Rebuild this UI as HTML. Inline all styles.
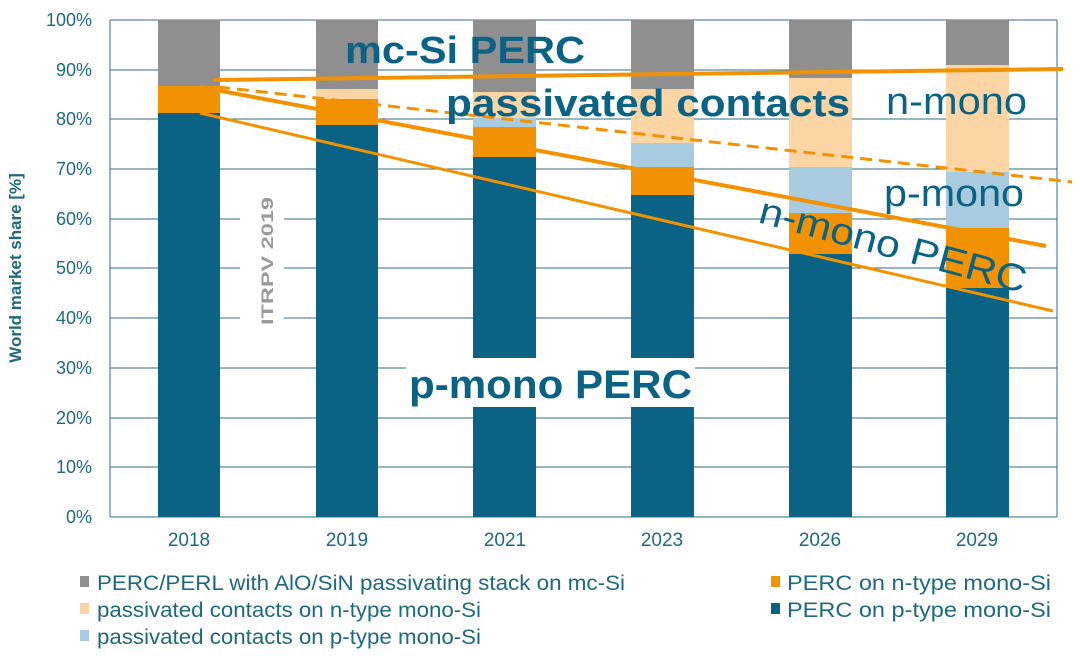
<!DOCTYPE html>
<html><head><meta charset="utf-8"><style>body{margin:0;background:#fff}svg{display:block}</style></head><body>
<svg width="1080" height="661" viewBox="0 0 1080 661" font-family="Liberation Sans, sans-serif">
<rect width="1080" height="661" fill="#fff"/>
<g stroke="#2e6f82" stroke-width="1">
<line x1="110" y1="20" x2="1057" y2="20"/><line x1="110" y1="70" x2="1057" y2="70"/><line x1="110" y1="119" x2="1057" y2="119"/><line x1="110" y1="169" x2="1057" y2="169"/><line x1="110" y1="219" x2="1057" y2="219"/><line x1="110" y1="268" x2="1057" y2="268"/><line x1="110" y1="318" x2="1057" y2="318"/><line x1="110" y1="368" x2="1057" y2="368"/><line x1="110" y1="418" x2="1057" y2="418"/><line x1="110" y1="467" x2="1057" y2="467"/><line x1="110" y1="517" x2="1057" y2="517"/>
<line x1="110" y1="20" x2="110" y2="517"/><line x1="1057" y1="20" x2="1057" y2="517"/>
</g>
<rect x="240" y="195" width="44" height="130" fill="#fff"/>
<text transform="translate(273,325) rotate(-90)" font-size="17" font-weight="bold" fill="#9a9a9a" textLength="128" lengthAdjust="spacingAndGlyphs">ITRPV 2019</text>
<g>
<rect x="158" y="20" width="62" height="66" fill="#8f8f8f"/><rect x="158" y="86" width="62" height="27" fill="#f39200"/><rect x="158" y="113" width="62" height="404" fill="#0a6385"/>
<rect x="316" y="20" width="62" height="69" fill="#8f8f8f"/><rect x="316" y="89" width="62" height="10" fill="#fcd5a5"/><rect x="316" y="99" width="62" height="26" fill="#f39200"/><rect x="316" y="125" width="62" height="392" fill="#0a6385"/>
<rect x="473" y="20" width="63" height="72" fill="#8f8f8f"/><rect x="473" y="92" width="63" height="26" fill="#fcd5a5"/><rect x="473" y="118" width="63" height="9" fill="#a9cbe0"/><rect x="473" y="127" width="63" height="30" fill="#f39200"/><rect x="473" y="157" width="63" height="360" fill="#0a6385"/>
<rect x="631" y="20" width="63" height="69" fill="#8f8f8f"/><rect x="631" y="89" width="63" height="54" fill="#fcd5a5"/><rect x="631" y="143" width="63" height="24" fill="#a9cbe0"/><rect x="631" y="167" width="63" height="28" fill="#f39200"/><rect x="631" y="195" width="63" height="322" fill="#0a6385"/>
<rect x="789" y="20" width="63" height="58" fill="#8f8f8f"/><rect x="789" y="78" width="63" height="89" fill="#fcd5a5"/><rect x="789" y="167" width="63" height="46" fill="#a9cbe0"/><rect x="789" y="213" width="63" height="41" fill="#f39200"/><rect x="789" y="254" width="63" height="263" fill="#0a6385"/>
<rect x="946" y="20" width="63" height="45" fill="#8f8f8f"/><rect x="946" y="65" width="63" height="107" fill="#fcd5a5"/><rect x="946" y="172" width="63" height="56" fill="#a9cbe0"/><rect x="946" y="228" width="63" height="60" fill="#f39200"/><rect x="946" y="288" width="63" height="229" fill="#0a6385"/>
</g>
<g stroke="#f39200" fill="none">
<line x1="213" y1="80" x2="1063" y2="69" stroke-width="4"/>
<line x1="218" y1="87" x2="1072" y2="182" stroke-width="3" stroke-dasharray="12,7"/>
<line x1="200" y1="87" x2="1046" y2="246" stroke-width="4"/>
<line x1="200" y1="113" x2="1053" y2="311" stroke-width="3"/>
</g>
<text x="345" y="63" font-size="38" font-weight="bold" fill="#0a6385" textLength="240" lengthAdjust="spacingAndGlyphs">mc-Si PERC</text>
<text x="446" y="116" font-size="38" font-weight="bold" fill="#0a6385" textLength="404" lengthAdjust="spacingAndGlyphs">passivated contacts</text>
<text x="886" y="114" font-size="38" fill="#0a6385" textLength="141" lengthAdjust="spacingAndGlyphs">n-mono</text>
<text x="884" y="206" font-size="38" fill="#0a6385" textLength="140" lengthAdjust="spacingAndGlyphs">p-mono</text>
<text transform="translate(757,222) rotate(15)" font-size="38" fill="#0a6385" textLength="275" lengthAdjust="spacingAndGlyphs">n-mono PERC</text>
<rect x="406" y="358" width="289" height="49" fill="#fff"/>
<text x="409" y="398" font-size="40" font-weight="bold" fill="#0a6385" textLength="283" lengthAdjust="spacingAndGlyphs">p-mono PERC</text>
<g font-size="18" fill="#1d6a80" text-anchor="end">
<text x="92" y="26">100%</text><text x="92" y="76">90%</text><text x="92" y="125">80%</text><text x="92" y="175">70%</text><text x="92" y="225">60%</text><text x="92" y="274">50%</text><text x="92" y="324">40%</text><text x="92" y="374">30%</text><text x="92" y="424">20%</text><text x="92" y="473">10%</text><text x="92" y="523">0%</text>
</g>
<text transform="translate(21,268) rotate(-90)" font-size="17" font-weight="bold" fill="#1d6a80" text-anchor="middle">World market share [%]</text>
<g font-size="19" fill="#1d6a80" text-anchor="middle">
<text x="189" y="546">2018</text><text x="347" y="546">2019</text><text x="505" y="546">2021</text><text x="662" y="546">2023</text><text x="820" y="546">2026</text><text x="977" y="546">2029</text>
</g>
<g font-size="21" fill="#1d6a80">
<rect x="80" y="576" width="9" height="11" fill="#8f8f8f"/><text x="97" y="590" textLength="528" lengthAdjust="spacingAndGlyphs">PERC/PERL with AlO/SiN passivating stack on mc-Si</text>
<rect x="80" y="603" width="9" height="11" fill="#fcd5a5"/><text x="97" y="617" textLength="384" lengthAdjust="spacingAndGlyphs">passivated contacts on n-type mono-Si</text>
<rect x="80" y="630" width="9" height="11" fill="#a9cbe0"/><text x="97" y="644" textLength="384" lengthAdjust="spacingAndGlyphs">passivated contacts on p-type mono-Si</text>
<rect x="771" y="576" width="9" height="11" fill="#f39200"/><text x="787" y="590" textLength="264" lengthAdjust="spacingAndGlyphs">PERC on n-type mono-Si</text>
<rect x="771" y="603" width="9" height="11" fill="#0a6385"/><text x="787" y="617" textLength="264" lengthAdjust="spacingAndGlyphs">PERC on p-type mono-Si</text>
</g>
</svg>
</body></html>
